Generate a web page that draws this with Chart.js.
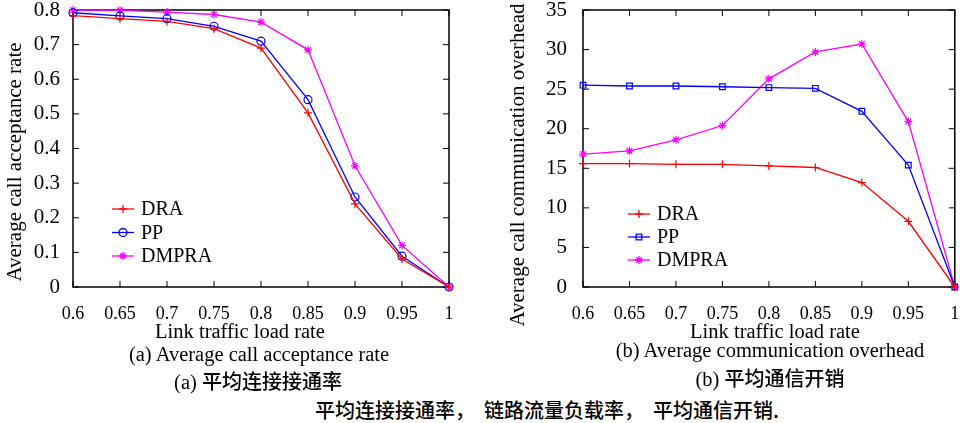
<!DOCTYPE html>
<html>
<head>
<meta charset="utf-8">
<script src="https://cdn.jsdelivr.net/npm/chart.js@4.4.1/dist/chart.umd.min.js"></script>
<style>
  body { margin: 0; background: #fff; width: 960px; height: 423px; overflow: hidden; position: relative; }
  canvas { position: absolute; top: 0; }
  .cap { position: absolute; font-family: 'Liberation Serif', 'Times New Roman', serif; font-size: 20.5px; color: #000; white-space: nowrap; transform: translateX(-50%); }
  .cjk { font-family: 'Noto Sans CJK SC', sans-serif; font-weight: 500; font-size: 20px; }
</style>
</head>
<body>
<canvas id="chartA" width="480" height="345" style="left:0"></canvas>
<canvas id="chartB" width="480" height="345" style="left:480px"></canvas>

<div class="cap" style="left:240px; top:320px">Link traffic load rate</div>
<div class="cap" style="left:259px; top:343px">(a) Average call acceptance rate</div>
<div class="cap" style="left:258px; top:366px">(a) <span class="cjk">平均连接接通率</span></div>
<div class="cap" style="left:775px; top:320px">Link traffic load rate</div>
<div class="cap" style="left:770px; top:339px">(b) Average communication overhead</div>
<div class="cap" style="left:770px; top:363px">(b) <span class="cjk">平均通信开销</span></div>
<div class="cap cjk" style="left:547px; top:395px">平均连接接通率，&nbsp;&nbsp;链路流量负载率，&nbsp;&nbsp;平均通信开销.</div>

<script>
// x categories (link traffic load rate)
const loads = ['0.6', '0.65', '0.7', '0.75', '0.8', '0.85', '0.9', '0.95', '1'];

// (a) average call acceptance rate
const accDRA   = [0.784, 0.775, 0.767, 0.746, 0.690, 0.503, 0.240, 0.081, 0];
const accPP    = [0.792, 0.783, 0.775, 0.753, 0.710, 0.541, 0.260, 0.089, 0];
const accDMPRA = [0.800, 0.799, 0.794, 0.787, 0.765, 0.685, 0.350, 0.120, 0];

// (b) average call communication overhead
const ovhDRA   = [15.6, 15.6, 15.5, 15.5, 15.3, 15.1, 13.2, 8.3, 0];
const ovhPP    = [25.5, 25.4, 25.4, 25.3, 25.2, 25.1, 22.2, 15.4, 0];
const ovhDMPRA = [16.8, 17.2, 18.6, 20.4, 26.3, 29.7, 30.7, 20.9, 0];

const serif = "'Liberation Serif', 'Times New Roman', serif";

// box around plot + inner tick marks
const frame = {
  id: 'frame',
  beforeDatasetsDraw(chart) {
    const ca = chart.chartArea, c = chart.ctx;
    const xs = chart.scales.x, ys = chart.scales.y;
    c.save();
    c.strokeStyle = '#000';
    c.lineWidth = 1.5;
    c.strokeRect(ca.left, ca.top, ca.right - ca.left, ca.bottom - ca.top);
    c.lineWidth = 1;
    c.beginPath();
    xs.ticks.forEach((t, i) => {
      const x = xs.getPixelForTick(i);
      c.moveTo(x, ca.bottom); c.lineTo(x, ca.bottom - 6);
      c.moveTo(x, ca.top); c.lineTo(x, ca.top + 6);
    });
    ys.ticks.forEach((t, i) => {
      const y = ys.getPixelForTick(i);
      c.moveTo(ca.left, y); c.lineTo(ca.left + 6, y);
      c.moveTo(ca.right, y); c.lineTo(ca.right - 6, y);
    });
    c.stroke();
    c.restore();
  }
};

// rotated y-axis title, placed like the original figure
const yTitle = {
  id: 'yTitle',
  afterDraw(chart, args, opts) {
    const c = chart.ctx;
    c.save();
    c.translate(opts.x, opts.y);
    c.rotate(-Math.PI / 2);
    c.font = opts.size + 'px ' + serif;
    c.fillStyle = '#000';
    c.textAlign = 'center';
    c.textBaseline = 'middle';
    c.fillText(opts.text, 0, 0);
    c.restore();
  }
};

// legend drawn inside the plot
const innerLegend = {
  id: 'innerLegend',
  afterDraw(chart, args, opts) {
    const c = chart.ctx;
    c.save();
    chart.data.datasets.forEach((ds, i) => {
      const y = opts.y + i * opts.gap;
      c.strokeStyle = ds.borderColor;
      c.lineWidth = 1.3;
      c.beginPath();
      c.moveTo(opts.x, y); c.lineTo(opts.x + opts.len, y);
      c.stroke();
      c.fillStyle = 'rgba(0,0,0,0)';
      Chart.helpers.drawPoint(c, { pointStyle: ds.pointStyle, radius: ds.pointRadius, rotation: 0, borderWidth: 1.2 }, opts.x + opts.len / 2, y);
      c.fillStyle = '#000';
      c.font = '20px ' + serif;
      c.textBaseline = 'middle';
      c.fillText(ds.label, opts.x + opts.len + 7, y + 1);
    });
    c.restore();
  }
};

function series(label, data, color, style) {
  return {
    label: label, data: data,
    borderColor: color, borderWidth: 1.3,
    pointStyle: style, pointRadius: 4, pointBorderWidth: 1.2,
    pointBorderColor: color, pointBackgroundColor: 'rgba(0,0,0,0)',
    tension: 0, clip: false
  };
}

function makeOptions(yMax, yStep, yWidth, padLeft, padRight, tickPad, title, legend) {
  return {
    responsive: false,
    animation: false,
    layout: { padding: { left: padLeft, right: padRight, top: 10, bottom: 0 } },
    plugins: { legend: { display: false }, tooltip: { enabled: false }, innerLegend: legend, yTitle: title },
    scales: {
      x: {
        grid: { display: false, drawTicks: false },
        border: { display: false },
        ticks: { color: '#000', font: { family: serif, size: 18 }, padding: 16, maxRotation: 0, autoSkip: false },
        afterFit(s) { s.height = 58; s.paddingLeft = 0; s.paddingRight = 0; }
      },
      y: {
        min: 0, max: yMax,
        grid: { display: false, drawTicks: false },
        border: { display: false },
        ticks: { stepSize: yStep, color: '#000', font: { family: serif, size: 21 }, padding: tickPad },
        afterFit(s) { s.width = yWidth; s.paddingTop = 0; s.paddingBottom = 0; }
      }
    }
  };
}

new Chart(document.getElementById('chartA'), {
  type: 'line',
  data: {
    labels: loads,
    datasets: [
      series('DRA', accDRA, '#ff0000', 'cross'),
      series('PP', accPP, '#0000ff', 'circle'),
      series('DMPRA', accDMPRA, '#ff00ff', 'star')
    ]
  },
  options: makeOptions(0.8, 0.1, 73, 0, 31, 13,
    { text: 'Average call acceptance rate', x: 15, y: 162, size: 21 },
    { x: 112, y: 209, gap: 23.5, len: 22 }),
  plugins: [frame, yTitle, innerLegend]
});

new Chart(document.getElementById('chartB'), {
  type: 'line',
  data: {
    labels: loads,
    datasets: [
      series('DRA', ovhDRA, '#ff0000', 'cross'),
      series('PP', ovhPP, '#0000ff', 'rect'),
      series('DMPRA', ovhDMPRA, '#ff00ff', 'star')
    ]
  },
  options: makeOptions(35, 5, 78, 25, 3, 16,
    { text: 'Average call communication overhead', x: 38, y: 165, size: 21 },
    { x: 148, y: 214, gap: 23, len: 22 }),
  plugins: [frame, yTitle, innerLegend]
});
</script>
</body>
</html>
